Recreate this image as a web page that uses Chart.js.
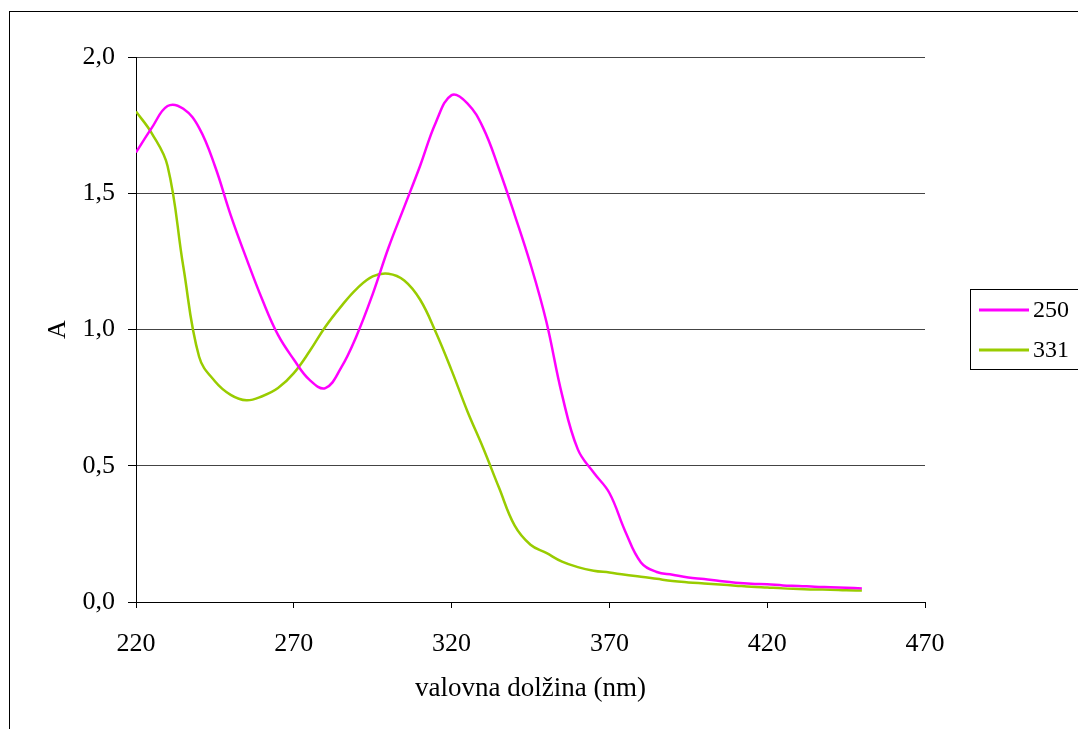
<!DOCTYPE html>
<html>
<head>
<meta charset="utf-8">
<script src="https://cdn.jsdelivr.net/npm/chart.js@4/dist/chart.umd.min.js"></script>
<style>
    html, body { margin: 0; padding: 0; background: #fff; }
    #wrap { position: relative; width: 1078px; height: 729px; overflow: hidden; }
</style>
</head>
<body>
<div id="wrap"><canvas id="spekter" width="1078" height="729"></canvas></div>
<script>
// valovne dolžine (nm)
var WAVELENGTHS = [220,225,230,235,240,245,250,255,260,265,270,275,280,285,290,295,300,305,310,315,320,325,330,335,340,345,350,355,360,365,370,375,380,385,390,395,400,405,410,415,420,425,430,435,440,445,450];

// absorbanca pri 250
var ABS_250 = [1.65,1.74,1.82,1.81,1.74,1.60,1.42,1.26,1.11,0.98,0.89,0.815,0.785,0.86,0.98,1.13,1.30,1.45,1.60,1.76,1.86,1.83,1.74,1.59,1.42,1.24,1.03,0.76,0.56,0.475,0.40,0.26,0.145,0.11,0.10,0.09,0.084,0.077,0.071,0.067,0.065,0.061,0.059,0.056,0.054,0.052,0.050];

// absorbanca pri 331
var ABS_331 = [1.80,1.72,1.60,1.23,0.90,0.81,0.76,0.74,0.755,0.785,0.84,0.92,1.01,1.085,1.15,1.195,1.205,1.18,1.11,0.99,0.85,0.70,0.565,0.42,0.28,0.21,0.18,0.148,0.128,0.115,0.108,0.10,0.093,0.085,0.077,0.072,0.068,0.064,0.060,0.056,0.053,0.050,0.048,0.046,0.045,0.043,0.042];

var SERIES_LABELS = ["250", "331"];
var SERIES_COLORS = ["#ff00ff", "#99cc00"];

var X_TITLE = "valovna dolžina (nm)";
var Y_TITLE = "A";

var FONT = "'Liberation Serif', 'Times New Roman', serif";
var FONT_SIZE = 26;

function toPoints(values) {
    return WAVELENGTHS.map(function(w, i) { return { x: w, y: values[i] }; });
}

// okvir okoli celotnega grafa
var framePlugin = {
    id: "frame",
    beforeDraw: function(chart) {
        var c = chart.ctx;
        c.save();
        c.fillStyle = "#fff";
        c.fillRect(0, 0, chart.width, chart.height);
        c.strokeStyle = "#000";
        c.lineWidth = 1;
        c.strokeRect(9.5, 11.5, chart.width + 20, chart.height + 20);
        c.restore();
    }
};

// legenda v okvirju desno od grafa
var boxLegendPlugin = {
    id: "boxLegend",
    afterDraw: function(chart) {
        var c = chart.ctx;
        var left = chart.chartArea.right + 45;
        var top = 289.5;
        c.save();
        c.strokeStyle = "#000";
        c.lineWidth = 1;
        c.strokeRect(left + 0.5, top, 200, 80);
        c.font = (FONT_SIZE - 2) + "px " + FONT;
        c.textBaseline = "middle";
        c.fillStyle = "#000";
        chart.data.datasets.forEach(function(ds, i) {
            var y = top + 20.5 + i * 40;
            c.strokeStyle = ds.borderColor;
            c.lineWidth = 3;
            c.beginPath();
            c.moveTo(left + 9, y);
            c.lineTo(left + 59, y);
            c.stroke();
            c.fillText(ds.label, left + 63, y + 1);
        });
        c.restore();
    }
};

function buildChart() {
    var datasets = [ABS_250, ABS_331].map(function(vals, i) {
        return {
            label: SERIES_LABELS[i],
            data: toPoints(vals),
            borderColor: SERIES_COLORS[i],
            backgroundColor: SERIES_COLORS[i],
            borderWidth: 2.5,
            pointRadius: 0,
            tension: 0.4,
            fill: false
        };
    });

    var ctx = document.getElementById("spekter").getContext("2d");
    new Chart(ctx, {
        type: "line",
        data: { datasets: datasets },
        plugins: [framePlugin, boxLegendPlugin],
        options: {
            responsive: false,
            animation: false,
            layout: { padding: { left: 43, top: 57, right: 153, bottom: 0 } },
            plugins: {
                legend: { display: false },
                tooltip: { enabled: false }
            },
            scales: {
                x: {
                    type: "linear",
                    min: 220,
                    max: 470,
                    afterFit: function(scale) { scale.height = 127; },
                    ticks: {
                        stepSize: 50,
                        padding: 21,
                        color: "#000",
                        font: { family: FONT, size: FONT_SIZE }
                    },
                    grid: { drawOnChartArea: false, drawTicks: true, tickLength: 6, color: "#000" },
                    border: { color: "#000", width: 1 },
                    title: {
                        display: true,
                        text: X_TITLE,
                        color: "#000",
                        font: { family: FONT, size: 27 },
                        padding: { top: 0, bottom: 24 }
                    }
                },
                y: {
                    min: 0,
                    max: 2,
                    afterFit: function(scale) { scale.width = 93; },
                    ticks: {
                        stepSize: 0.5,
                        padding: 13,
                        color: "#000",
                        font: { family: FONT, size: FONT_SIZE },
                        callback: function(v) { return v.toFixed(1).replace(".", ","); }
                    },
                    grid: { color: "#444", lineWidth: 1, drawTicks: true, tickLength: 8, tickColor: "#000" },
                    border: { color: "#000", width: 1 },
                    title: {
                        display: true,
                        text: Y_TITLE,
                        color: "#000",
                        font: { family: FONT, size: FONT_SIZE },
                        padding: 0
                    }
                }
            }
        }
    });
}

document.addEventListener("DOMContentLoaded", buildChart);
</script>
</body>
</html>
